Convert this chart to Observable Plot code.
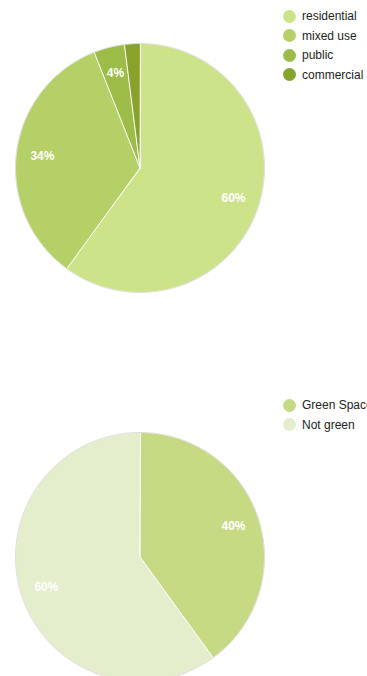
<!DOCTYPE html>
<html>
<head>
<meta charset="utf-8">
<script src="https://cdn.jsdelivr.net/npm/d3@7"></script>
<script src="https://cdn.jsdelivr.net/npm/@observablehq/plot@0.6"></script>
<style>
  html, body { margin: 0; padding: 0; background: #fff; }
  #root { position: relative; width: 367px; height: 676px; overflow: hidden; font-family: Arial, "Liberation Sans", sans-serif; }
  .chart { position: absolute; left: 0; }
  .legend { position: absolute; left: 283px; font-size: 12px; color: #222; white-space: nowrap; }
  .legend .row { position: absolute; left: 0; height: 14px; line-height: 14px; display: flex; align-items: center; }
  .legend .sw { width: 13px; height: 13px; border-radius: 50%; margin-right: 6px; flex: none; }
</style>
</head>
<body>
<div id="root"></div>
<script>
// ---- data ----
const landUseCategories = ["residential", "mixed use", "public", "commercial"];
const landUseValues = [60, 34, 4, 2];
const greenCategories = ["Green Space", "Not green"];
const greenValues = [40, 60];

const landUseColors = ["#cde389", "#b5d066", "#9dbc48", "#87a32c"];
const greenColors = ["#c6da84", "#e4eecd"];

function piePlot({cats, values, colors, cx, cy, r, width, height}) {
  const total = d3.sum(values);
  let acc = 0;
  const pts = [];
  const labels = [];
  values.forEach((v, i) => {
    const cat = cats[i];
    const a0 = acc / total * 2 * Math.PI;
    acc += v;
    const a1 = acc / total * 2 * Math.PI;
    const n = Math.max(2, Math.ceil((a1 - a0) / (Math.PI / 360)));
    pts.push({cat, x: 0, y: 0});
    for (let k = 0; k <= n; k++) {
      const a = a0 + (a1 - a0) * k / n;
      pts.push({cat, x: Math.sin(a), y: Math.cos(a)});
    }
    const mid = (a0 + a1) / 2;
    const share = v / total;
    if (share >= 0.035) {
      labels.push({cat, text: Math.round(share * 100) + "%", x: 0.79 * Math.sin(mid), y: 0.79 * Math.cos(mid)});
    }
  });
  const ring = d3.range(0, 721).map(k => ({x: Math.sin(k / 720 * 2 * Math.PI), y: Math.cos(k / 720 * 2 * Math.PI)}));
  return Plot.plot({
    width, height, margin: 0,
    style: {fontFamily: "Arial, 'Liberation Sans', sans-serif", overflow: "visible"},
    x: {domain: [-1, 1], range: [cx - r, cx + r], axis: null},
    y: {domain: [-1, 1], range: [cy + r, cy - r], axis: null},
    color: {domain: cats, range: colors},
    marks: [
      Plot.line(pts, {x: "x", y: "y", z: "cat", fill: "cat", stroke: "white", strokeWidth: 1, curve: "linear-closed"}),
      Plot.line(ring, {x: "x", y: "y", stroke: "#bbbbbb", strokeOpacity: 0.6, strokeWidth: 0.8}),
      Plot.text(labels, {x: "x", y: "y", text: "text", fill: "white", fontSize: 12, fontWeight: "bold"})
    ]
  });
}

function legend(cats, colors, top) {
  const div = document.createElement("div");
  div.className = "legend";
  div.style.top = top + "px";
  cats.forEach((c, i) => {
    const row = document.createElement("div");
    row.className = "row";
    row.style.top = (i * 19.5) + "px";
    const sw = document.createElement("span");
    sw.className = "sw";
    sw.style.background = colors[i];
    const t = document.createElement("span");
    t.textContent = c;
    row.appendChild(sw); row.appendChild(t);
    div.appendChild(row);
  });
  return div;
}

const root = document.getElementById("root");

const p1 = piePlot({cats: landUseCategories, values: landUseValues, colors: landUseColors, cx: 139.5, cy: 167.5, r: 124.5, width: 367, height: 338});
p1.classList.add("chart"); p1.style.top = "0px";
root.appendChild(p1);
root.appendChild(legend(landUseCategories, landUseColors, 9));

const p2 = piePlot({cats: greenCategories, values: greenValues, colors: greenColors, cx: 139.5, cy: 218.5, r: 124.5, width: 367, height: 338});
p2.classList.add("chart"); p2.style.top = "338px";
root.appendChild(p2);
root.appendChild(legend(greenCategories, greenColors, 398));
</script>
</body>
</html>
